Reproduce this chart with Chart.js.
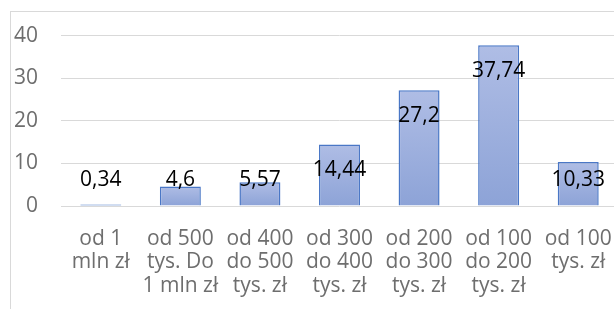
<!DOCTYPE html>
<html>
<head>
<meta charset="utf-8">
<script src="https://cdn.jsdelivr.net/npm/chart.js@4"></script>
<style>
  html, body { margin: 0; padding: 0; background: #fff; overflow: hidden; }
  #wrap { position: relative; width: 614px; height: 309px; overflow: hidden; }
  #chart { position: absolute; left: 0; top: 0; }
</style>
</head>
<body>
<div id="wrap"><canvas id="chart" width="640" height="340"></canvas></div>
<script>
// dane wykresu
const categories = [
  ['od 1', 'mln zł'],
  ['od 500', 'tys. Do', '1 mln zł'],
  ['od 400', 'do 500', 'tys. zł'],
  ['od 300', 'do 400', 'tys. zł'],
  ['od 200', 'do 300', 'tys. zł'],
  ['od 100', 'do 200', 'tys. zł'],
  ['od 100', 'tys. zł']
];
const values = [0.34, 4.6, 5.57, 14.44, 27.2, 37.74, 10.33];
const yTicks = [0, 10, 20, 30, 40];

const FONT = '"Open Sans", "Noto Sans", sans-serif';

// ramka wykresu (jak w Excelu)
const frame = {
  id: 'frame',
  beforeDraw(chart) {
    const c = chart.ctx;
    c.save();
    c.strokeStyle = '#d9d9d9';
    c.lineWidth = 1;
    c.strokeRect(10.5, 11.5, 1000, 1000);
    c.restore();
  }
};

// etykiety danych - wewnątrz końca słupka
const labels = {
  id: 'labels',
  afterDatasetsDraw(chart) {
    const c = chart.ctx;
    const y = chart.scales.y;
    const meta = chart.getDatasetMeta(0);
    c.save();
    c.font = '21px ' + FONT;
    c.fillStyle = '#000';
    c.textAlign = 'center';
    c.textBaseline = 'middle';
    meta.data.forEach((bar, i) => {
      const v = values[i];
      const py = Math.min(y.getPixelForValue(v) + 26, y.getPixelForValue(0) - 26);
      c.fillText(String(v).replace('.', ','), bar.x, py);
    });
    c.restore();
  }
};

function barFill(ctx) {
  const chart = ctx.chart;
  const v = ctx.raw;
  if (!chart.chartArea || v == null) return '#9aaedd';
  const y = chart.scales.y;
  const top = y.getPixelForValue(v);
  const bottom = y.getPixelForValue(0);
  const g = chart.ctx.createLinearGradient(0, top, 0, bottom);
  g.addColorStop(0, '#afbde5');
  g.addColorStop(1, '#8da3d7');
  return g;
}

new Chart(document.getElementById('chart'), {
  type: 'bar',
  data: {
    labels: categories,
    datasets: [{
      data: values,
      backgroundColor: barFill,
      borderColor: '#4a77c6',
      borderWidth: 1.5,
      borderSkipped: ctx => (ctx.raw < 1 ? false : 'start'),
      categoryPercentage: 1,
      barPercentage: 0.515
    }]
  },
  options: {
    responsive: false,
    animation: false,
    layout: { padding: { left: 0, top: 29, right: 22, bottom: 24 } },
    plugins: { legend: { display: false }, tooltip: { enabled: false } },
    scales: {
      x: {
        grid: { display: false, drawTicks: false },
        border: { display: false },
        ticks: {
          color: '#6e6e6e',
          font: { family: FONT, size: 21, lineHeight: '23.5px' },
          padding: 21,
          maxRotation: 0,
          autoSkip: false
        },
        afterFit(scale) { scale.height = 110; }
      },
      y: {
        min: yTicks[0],
        max: yTicks[yTicks.length - 1],
        afterBuildTicks(scale) { scale.ticks = yTicks.map(v => ({ value: v })); },
        grid: { color: '#d9d9d9', lineWidth: 1, drawTicks: false },
        border: { display: false },
        ticks: {
          color: '#6e6e6e',
          font: { family: FONT, size: 21 },
          padding: 23
        },
        afterFit(scale) { scale.width = 61; }
      }
    }
  },
  plugins: [frame, labels]
});
</script>
</body>
</html>
